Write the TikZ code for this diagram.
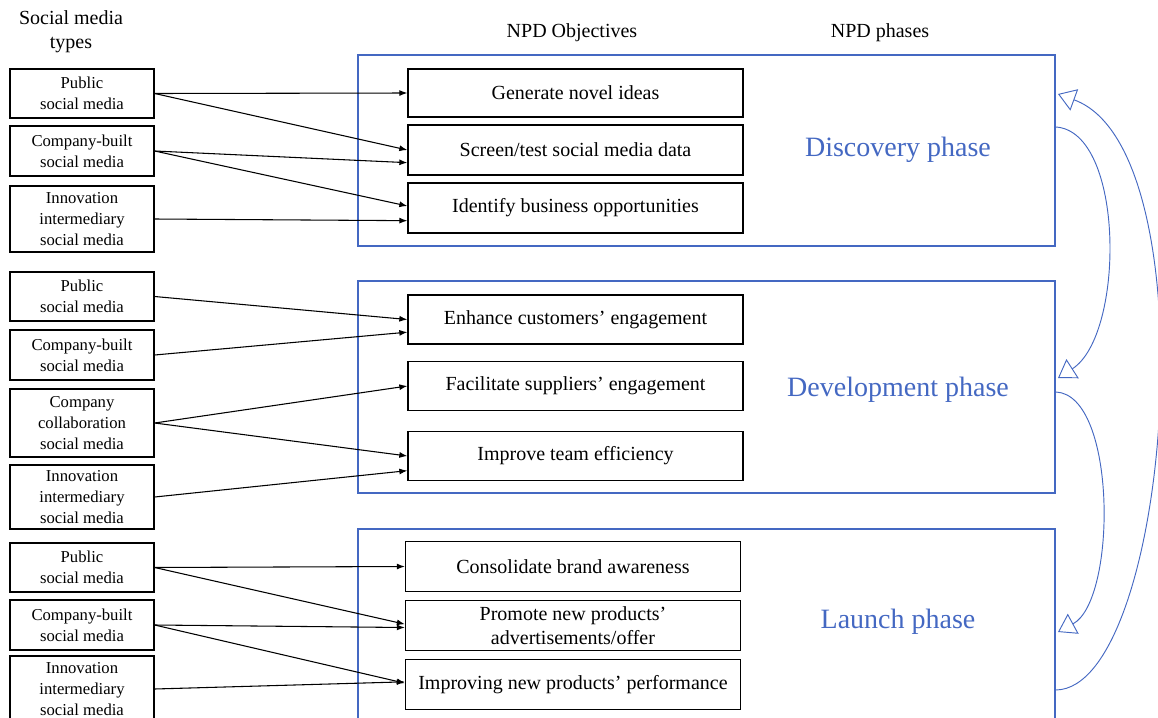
\documentclass[tikz,border=0pt]{standalone}
\usepackage{fontspec}
\setmainfont{Liberation Serif}
\usetikzlibrary{arrows.meta}
\definecolor{phaseblue}{HTML}{4468C2}
\tikzset{
	smbox/.style={draw, line width=1pt, align=center, minimum width=108pt, inner sep=0pt,
		font=\fontsize{12.5}{15.5}\selectfont},
	objbox/.style={draw, line width=1pt, align=center, minimum width=251.25pt, inner sep=0pt,
		font=\fontsize{15}{18}\selectfont},
	phasebox/.style={draw=phaseblue, line width=0.8pt, minimum width=522.75pt, inner sep=0pt},
	phaselabel/.style={text=phaseblue, font=\fontsize{21}{25}\selectfont},
	head/.style={font=\fontsize{15}{18}\selectfont, align=center},
	flow/.style={-{Latex[length=6pt,width=4.5pt]}, line width=0.8pt},
	cycle/.style={draw=phaseblue, line width=0.7pt, -{Triangle[open,length=13pt,width=17pt]}}
}
\begin{document}
\begin{tikzpicture}[x=0.75pt, y=-0.75pt]
	\useasboundingbox (0,0) rectangle (1158,718);
	\clip (0,0) rectangle (1158,718);
	% headings
	\node (hsm)  at (71, 32)  [head]	{Social media\\types};
	\node (hobj) at (572, 33) [head]	{NPD Objectives};
	\node (hph)  at (880, 33) [head]	{NPD phases};
	% phases
	\node (disc) at (706.5, 150.5)	[phasebox, minimum height=143.25pt]	{};
	\node (dev)  at (706.5, 387)	[phasebox, minimum height=159pt]	{};
	\node (laun) at (706.5, 635)	[phasebox, minimum height=159pt]	{};
	\node (ldisc) at (898, 150)	[phaselabel]	{Discovery phase};
	\node (ldev)  at (898, 390)	[phaselabel]	{Development phase};
	\node (llaun) at (898, 622)	[phaselabel]	{Launch phase};
	% social media types
	\node (pub1) at (82, 93.5)	[smbox, minimum height=36.75pt]	{Public\\social media};
	\node (com1) at (82, 151)	[smbox, minimum height=37.5pt]	{Company-built\\social media};
	\node (inn1) at (82, 219)	[smbox, minimum height=49.5pt]	{Innovation\\intermediary\\social media};
	\node (pub2) at (82, 296.5)	[smbox, minimum height=36.75pt]	{Public\\social media};
	\node (com2) at (82, 355)	[smbox, minimum height=37.5pt]	{Company-built\\social media};
	\node (col2) at (82, 423)	[smbox, minimum height=51pt]	{Company\\collaboration\\social media};
	\node (inn2) at (82, 497)	[smbox, minimum height=48pt]	{Innovation\\intermediary\\social media};
	\node (pub3) at (82, 567.5)	[smbox, minimum height=36.75pt]	{Public\\social media};
	\node (com3) at (82, 625)	[smbox, minimum height=37.5pt]	{Company-built\\social media};
	\node (inn3) at (82, 689)	[smbox, minimum height=49.5pt]	{Innovation\\intermediary\\social media};
	% objectives
	\node (gen) at (575.5, 93)	[objbox, minimum height=36pt]	{Generate novel ideas};
	\node (scr) at (575.5, 150)	[objbox, minimum height=37.5pt]	{Screen/test social media data};
	\node (idb) at (575.5, 208)	[objbox, minimum height=37.5pt]	{Identify business opportunities};
	\node (enh) at (575.5, 319.5)	[objbox, minimum height=36.75pt]	{Enhance customers’ engagement};
	\node (fac) at (575.5, 386)	[objbox, minimum height=36.75pt]	{Facilitate suppliers’ engagement};
	\node (imp) at (575.5, 456)	[objbox, minimum height=36.75pt]	{Improve team efficiency};
	\node (con) at (573, 566.5)	[objbox, minimum height=37.5pt]	{Consolidate brand awareness};
	\node (pro) at (573, 625.5)	[objbox, minimum height=37.5pt]	{Promote new products’\\advertisements/offer};
	\node (ipp) at (573, 684.5)	[objbox, minimum height=37.5pt]	{Improving new products’ performance};
	% links
	\draw[flow] (pub1.east) -- (gen.west);
	\draw[flow] (pub1.east) -- (scr.west);
	\draw[flow] (com1.east) -- ([yshift=-9.5pt]scr.west);
	\draw[flow] (com1.east) -- ([yshift=1.5pt]idb.west);
	\draw[flow] (inn1.east) -- ([yshift=-9.5pt]idb.west);
	\draw[flow] (pub2.east) -- (enh.west);
	\draw[flow] (com2.east) -- ([yshift=-9.5pt]enh.west);
	\draw[flow] (col2.east) -- (fac.west);
	\draw[flow] (col2.east) -- (imp.west);
	\draw[flow] (inn2.east) -- ([yshift=-11pt]imp.west);
	\draw[flow] (pub3.east) -- (con.west);
	\draw[flow] (pub3.east) -- ([yshift=1pt]pro.west);
	\draw[flow] (com3.east) -- ([yshift=-1.5pt]pro.west);
	\draw[flow] (com3.east) -- ([yshift=1pt]ipp.west);
	\draw[flow] (inn3.east) -- ([yshift=2pt]ipp.west);
	% phase cycle
	\coordinate (d1) at (1056, 127);
	\coordinate (d2) at (1058, 378);
	\coordinate (e1) at (1056, 392);
	\coordinate (e2) at (1058, 632);
	\coordinate (l1) at (1056, 690);
	\coordinate (l2) at (1058, 94);
	\draw[cycle] (d1) .. controls (1125, 132) and (1125, 335) .. (d2);
	\draw[cycle] (e1) .. controls (1117, 395) and (1117, 600) .. (e2);
	\draw[cycle] (l1) .. controls (1170, 688) and (1212, 150) .. (l2);
\end{tikzpicture}
\end{document}
